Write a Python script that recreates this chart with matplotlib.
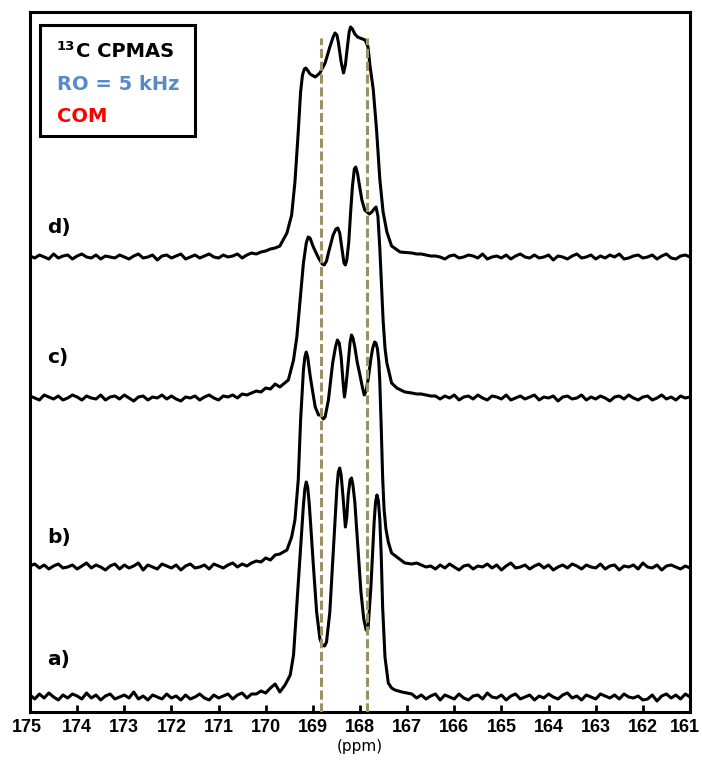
import numpy as np
import matplotlib
matplotlib.use("Agg")
import matplotlib.pyplot as plt
import matplotlib.transforms as mtransforms
from matplotlib.patches import Rectangle

plt.rcParams['font.family'] = ['DejaVu Sans']

# baseline away from the peaks, read every 0.1 ppm
# left part: 175.0 -> 169.7 ppm, right part: 166.9 -> 161.0 ppm
left_start = 175.0
right_start = 166.9
step = 0.1

a_left = [2, -2, 3, -1, 4, 0, -3, 2, -1, 3, 1, -2, 4, -1, 2, -3, 1, 3, -2, 0,
          2, -1, 5, -2, 1, -3, 2, 0, -2, 3, -1, 1, -3, 2, -2, 0, 3, -1, -3, 2,
          -1, 1, 3, -2, 2, 4, -1, 3, 3, 6, 4, 9, 13, 5]
a_right = [3, -1, 2, -2, 1, 3, -3, 2, 0, -2, 3, -1, -3, 1, 2, -2, 4, 0, -1, 2,
           -3, 1, 3, -2, 0, 2, -3, 1, -1, 3, 0, -2, 2, 4, -1, 1, -3, 2, 0, -2,
           3, 1, -1, 2, -2, 3, 0, -1, 1, -3, -2, 2, -4, 1, 3, -1, 2, -2, 3, 0]
b_left = [1, 3, -1, 2, -2, 1, 3, -1, 0, 2, -2, 1, 4, -1, 2, 0, -3, 1, 3, -2,
          2, -1, 1, 4, -3, 2, 0, -2, 3, 1, -1, 2, -3, 1, 3, -1, 0, 2, -2, 3,
          1, -1, 2, 4, 0, 3, 1, 4, 6, 5, 9, 7, 12, 13]
b_right = [3, 4, 2, 0, 1, -2, 2, -1, 3, 0, -3, 1, 2, -2, 1, 0, 3, -1, 2, -3,
           1, 4, -1, 0, 2, -2, 1, 3, -1, 2, -3, 0, 2, -1, 3, 1, -2, 2, 0, -1,
           3, -2, 1, 2, -3, 1, 0, 2, -2, 4, 0, -1, 2, -3, 1, 2, 0, -2, 1, -1]
c_left = [2, 0, -2, 3, 1, -1, 2, -2, 0, 3, 1, -2, 2, 0, -1, 3, -2, 1, 2, -1,
          3, 0, -3, 1, 2, -2, 1, 0, 3, -1, 2, -1, -3, 1, 0, 2, -2, 1, 3, 0,
          -2, 2, 1, 3, 0, 4, 3, 5, 7, 6, 10, 9, 14, 11]
c_right = [5, 4, 4, 3, 2, 2, -1, 2, 0, 3, -2, 1, 2, -1, 3, 0, -2, 2, 1, -1,
           3, -2, 0, 2, -1, 1, 3, -2, 1, 0, 2, -3, 1, 2, -1, 0, 3, -2, 1, -1,
           2, 0, -3, 1, 2, -1, 3, 0, -2, 1, 2, -2, 0, 3, -1, 1, -2, 2, 0, 1]
d_left = [1, -1, 2, 0, -2, 3, -1, 1, 2, -2, 1, 3, 0, -1, 2, -2, 1, 0, -1, 2,
          0, -2, 1, 3, -1, 0, 2, -3, 1, 2, -1, 1, 3, -2, 0, 2, -1, 1, 3, 0,
          -1, 2, 0, 1, 3, -1, 2, 4, 3, 5, 6, 8, 9, 11]
d_right = [4, 3, 3, 2, 1, 1, 0, -2, 1, 2, -1, 0, 2, 1, -1, 3, -2, 0, 1, -1,
           2, -2, 1, 3, 0, -1, 2, -1, 0, 2, -3, 1, 0, -2, 1, 3, -1, 0, 2, -2,
           1, -1, 2, 0, 3, -2, -1, 1, 2, -1, 0, 2, -2, 1, 3, -1, -2, 1, 2, 0]

# peak region (ppm, intensity)
a_ppm = [169.59, 169.48, 169.41, 169.34, 169.27, 169.20, 169.17, 169.14, 169.11,
         169.08, 169.05, 168.99, 168.92, 168.85, 168.80, 168.75, 168.71, 168.64,
         168.57, 168.49, 168.46, 168.43, 168.40, 168.36, 168.31, 168.28, 168.25,
         168.21, 168.18, 168.15, 168.11, 168.06, 167.98, 167.92, 167.87, 167.83,
         167.77, 167.70, 167.67, 167.64, 167.61, 167.58, 167.55, 167.52, 167.47,
         167.40, 167.33, 167.26, 167.11]
a_int = [12, 22, 42, 92, 142, 192, 208, 215, 210, 195, 175, 132, 85, 58, 52, 51,
         55, 85, 142, 209, 225, 229, 222, 200, 170, 180, 202, 217, 219, 212, 195,
         160, 105, 78, 67, 68, 109, 175, 195, 202, 196, 178, 142, 90, 40, 14, 9,
         7, 5]

b_ppm = [169.55, 169.45, 169.38, 169.31, 169.26, 169.20, 169.17, 169.14, 169.11,
         169.06, 169.02, 168.95, 168.88, 168.83, 168.78, 168.74, 168.67, 168.58,
         168.52, 168.48, 168.44, 168.40, 168.36, 168.33, 168.30, 168.25, 168.21,
         168.18, 168.15, 168.11, 168.06, 168.01, 167.95, 167.91, 167.87, 167.82,
         167.77, 167.73, 167.69, 167.66, 167.63, 167.60, 167.58, 167.55, 167.52,
         167.49, 167.45, 167.40, 167.33, 167.19, 167.05]
b_int = [17, 30, 47, 87, 147, 197, 210, 215, 210, 192, 180, 160, 152, 152, 148,
         150, 167, 204, 220, 227, 224, 210, 185, 170, 180, 204, 225, 232, 229, 220,
         205, 194, 180, 172, 176, 190, 208, 219, 225, 224, 218, 205, 185, 140, 90,
         58, 38, 25, 14, 9, 4]

c_ppm = [169.52, 169.41, 169.34, 169.27, 169.20, 169.14, 169.10, 169.06, 168.99,
         168.88, 168.80, 168.76, 168.71, 168.67, 168.57, 168.51, 168.47, 168.43,
         168.38, 168.34, 168.31, 168.28, 168.24, 168.20, 168.16, 168.12, 168.09,
         168.05, 168.01, 167.96, 167.90, 167.85, 167.80, 167.75, 167.70, 167.66,
         167.62, 167.58, 167.54, 167.51, 167.47, 167.43, 167.33, 167.22, 167.05]
c_int = [18, 38, 61, 98, 135, 155, 161, 160, 151, 140, 134, 133, 137, 145, 163,
         169, 170, 165, 148, 135, 133, 138, 155, 185, 212, 229, 231, 224, 212, 198,
         188, 186, 184, 186, 189, 191, 182, 150, 110, 78, 50, 35, 15, 10, 6]

d_ppm = [169.55, 169.45, 169.38, 169.31, 169.26, 169.22, 169.18, 169.15, 169.10,
         169.06, 168.95, 168.85, 168.74, 168.64, 168.57, 168.53, 168.49, 168.46,
         168.40, 168.35, 168.31, 168.28, 168.23, 168.20, 168.16, 168.11, 168.05,
         168.00, 167.89, 167.83, 167.79, 167.72, 167.65, 167.58, 167.51, 167.43,
         167.33, 167.15]
d_int = [24, 42, 75, 125, 165, 182, 188, 189, 186, 183, 180, 184, 194, 210, 220,
         224, 222, 215, 195, 184, 192, 205, 225, 230, 228, 223, 220, 219, 217, 210,
         192, 168, 128, 78, 45, 25, 11, 5]

labels = ['a)', 'b)', 'c)', 'd)']
offsets = [15, 145, 314, 455]
guide_ppm = [168.83, 167.86]
ticks = list(range(161, 176))


def build(left, ppm, inten, right):
    xl = left_start - step * np.arange(len(left))
    xr = right_start - step * np.arange(len(right))
    x = np.concatenate([xl, ppm, xr])
    y = np.concatenate([left, inten, right]).astype(float)
    return x, y


traces = [build(a_left, a_ppm, a_int, a_right),
          build(b_left, b_ppm, b_int, b_right),
          build(c_left, c_ppm, c_int, c_right),
          build(d_left, d_ppm, d_int, d_right)]

W, H = 702, 763
fig = plt.figure(figsize=(W / 100, H / 100), dpi=100)
ax = fig.add_axes([30 / W, 51 / H, 660 / W, 700 / H])

for (x, y), off in zip(traces, offsets):
    ax.plot(x, y + off, color='black', lw=2.2, solid_joinstyle='round', zorder=2)

for g in guide_ppm:
    ax.plot([g, g], [0, 674], color='#9c9162', lw=2.2, dashes=(3, 1.2), zorder=3)

ax.set_xlim(175, 161)
ax.set_ylim(0, 700)
ax.set_xticks(ticks)
ax.set_xticklabels([str(t) for t in ticks], fontweight='bold', fontsize=13,
                   family=['Liberation Sans', 'DejaVu Sans'])
ax.set_yticks([])
ax.tick_params(axis='x', direction='in', length=5, width=2, pad=5)
for s in ax.spines.values():
    s.set_linewidth(2.2)
ax.set_xlabel('(ppm)', fontsize=11, labelpad=2)

# end labels sit a little to the left, as in the original
edge = ax.get_xticklabels()
edge[0].set_transform(edge[0].get_transform() + mtransforms.ScaledTranslation(-4 / 72, 0, fig.dpi_scale_trans))
edge[-1].set_transform(edge[-1].get_transform() + mtransforms.ScaledTranslation(-2 / 72, 0, fig.dpi_scale_trans))

# trace labels
label_pos = [(47, 660), (47, 537), (47, 358), (47, 228)]
for lab, (px, py) in zip(labels, label_pos):
    fig.text(px / W, 1 - py / H, lab, fontsize=14.5, fontweight='bold', va='center', ha='left')

# legend box
fig.patches.append(Rectangle((40 / W, 1 - 136 / H), 155 / W, 111 / H, transform=fig.transFigure,
                             fill=False, edgecolor='black', lw=2.2, zorder=5))
fig.text(57 / W, 1 - 50 / H, '13', fontsize=9.5, fontweight='bold', va='baseline')
fig.text(76 / W, 1 - 57 / H, 'C CPMAS', fontsize=14, fontweight='bold', va='baseline')
fig.text(57 / W, 1 - 90 / H, 'RO = 5 kHz', fontsize=14, fontweight='bold', va='baseline', color='#5a8ac6')
fig.text(57 / W, 1 - 122 / H, 'COM', fontsize=14, fontweight='bold', va='baseline', color='#ff0000')

fig.savefig('out.png', dpi=100)
